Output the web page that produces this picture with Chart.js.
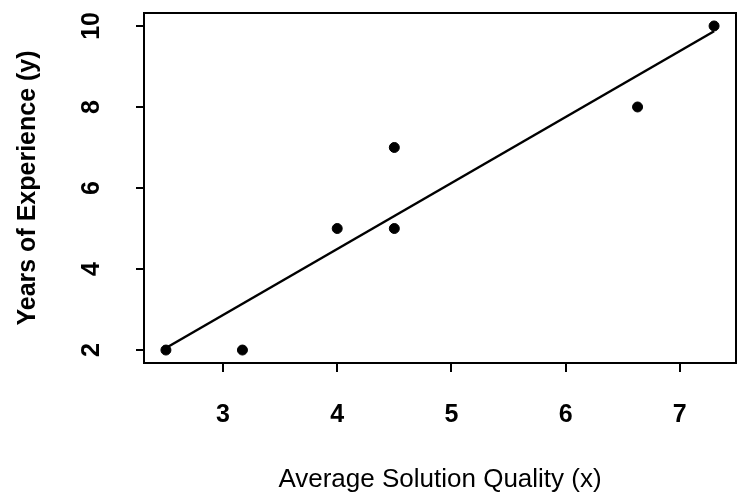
<!DOCTYPE html>
<html>
<head>
<meta charset="utf-8">
<script src="https://cdn.jsdelivr.net/npm/chart.js@4/dist/chart.umd.min.js"></script>
<style>
  html, body { margin: 0; padding: 0; background: #fff; }
  #box { width: 744px; height: 495px; }
</style>
</head>
<body>
<div id="box"><canvas id="myChart" width="744" height="495"></canvas></div>
<script>
// dados
let qualidade_x = [2.5, 3.17, 4.0, 4.5, 4.5, 6.63, 7.3];
let experiencia_y = [2, 2, 5, 5, 7, 8, 10];
// reta ajustada (pontas)
let reta_x = [2.5, 7.3];
let reta_y = [2.05, 9.87];
// ticks
let ticks_x = [3, 4, 5, 6, 7];
let ticks_y = [2, 4, 6, 8, 10];

let pontos = [];
qualidade_x.forEach((x, i) => {
  pontos.push({ x: x, y: experiencia_y[i] });
});
let pontos_reta = [];
reta_x.forEach((x, i) => {
  pontos_reta.push({ x: x, y: reta_y[i] });
});

// moldura em volta da area do grafico
const moldura = {
  id: 'moldura',
  afterDraw(chart) {
    let a = chart.chartArea;
    let ctx = chart.ctx;
    ctx.save();
    ctx.strokeStyle = '#000';
    ctx.lineWidth = 2;
    ctx.strokeRect(a.left, a.top, a.right - a.left, a.bottom - a.top);
    ctx.restore();
  }
};

let fonte_tick = { family: "'Liberation Sans', Arial, sans-serif", size: 25, weight: 'bold' };

let ctx = document.getElementById('myChart');
let grafico = new Chart(ctx, {
  type: 'scatter',
  data: {
    datasets: [
      {
        label: 'pontos',
        data: pontos,
        backgroundColor: '#000',
        borderColor: '#000',
        pointRadius: 5,
        pointHoverRadius: 5
      },
      {
        label: 'reta',
        data: pontos_reta,
        showLine: true,
        borderColor: '#000',
        borderWidth: 2.5,
        pointRadius: 0,
        fill: false
      }
    ]
  },
  options: {
    responsive: false,
    animation: false,
    events: [],
    layout: { padding: { top: 13, right: 8, left: 0, bottom: 0 } },
    plugins: {
      legend: { display: false },
      tooltip: { enabled: false }
    },
    scales: {
      x: {
        type: 'linear',
        min: 2.308,
        max: 7.492,
        afterFit: (s) => { s.height = 132; s.paddingLeft = 0; s.paddingRight = 0; },
        afterBuildTicks: (s) => { s.ticks = ticks_x.map(v => ({ value: v })); },
        border: { display: false },
        grid: { drawOnChartArea: false, drawTicks: true, tickLength: 9, color: '#000', lineWidth: 2 },
        ticks: { color: '#000', font: fonte_tick, padding: 28, maxRotation: 0 },
        title: {
          display: true,
          text: 'Average Solution Quality (x)',
          color: '#000',
          font: { family: "'Liberation Sans', Arial, sans-serif", size: 26 },
          padding: { top: 0, bottom: 0 }
        }
      },
      y: {
        type: 'linear',
        min: 1.68,
        max: 10.32,
        afterFit: (s) => { s.width = 144; s.paddingTop = 0; s.paddingBottom = 0; },
        afterBuildTicks: (s) => { s.ticks = ticks_y.map(v => ({ value: v })); },
        border: { display: false },
        grid: { drawOnChartArea: false, drawTicks: true, tickLength: 8, color: '#000', lineWidth: 2 },
        ticks: { color: '#000', font: fonte_tick, padding: 30, minRotation: 90, maxRotation: 90, crossAlign: 'center' },
        title: {
          display: true,
          text: 'Years of Experience (y)',
          color: '#000',
          font: { family: "'Liberation Sans', Arial, sans-serif", size: 25, weight: 'bold' },
          padding: { top: 13, bottom: 0 }
        }
      }
    }
  },
  plugins: [moldura]
});
</script>
</body>
</html>
